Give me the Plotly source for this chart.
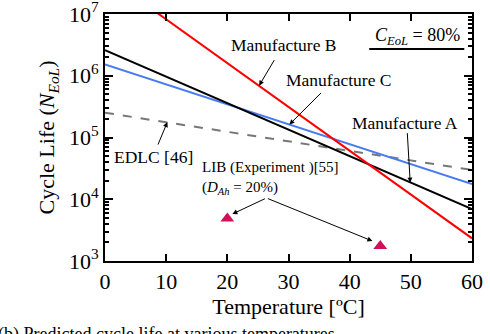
import plotly.graph_objects as go

# ---- data ----
temps_line = [0, 60]
manuf_a = [2.6e6, 6.9e3]
manuf_b = [4.2e7, 2.33e3]
manuf_c = [1.53e6, 1.77e4]
edlc = [2.52e5, 2.98e4]
lib_temp = [20, 45]
lib_life = [4.9e3, 1.75e3]
x_ticks = [0, 10, 20, 30, 40, 50, 60]
y_ticks = [1e3, 1e4, 1e5, 1e6, 1e7]
y_ticktext = ["10<sup>3</sup>", "10<sup>4</sup>", "10<sup>5</sup>", "10<sup>6</sup>", "10<sup>7</sup>"]

FONT = "Liberation Serif, Times New Roman, serif"

fig = go.Figure()
fig.add_trace(go.Scatter(x=temps_line, y=edlc, mode="lines",
                         line=dict(color="#777777", width=2, dash="dash")))
fig.add_trace(go.Scatter(x=temps_line, y=manuf_c, mode="lines",
                         line=dict(color="#4A7CF0", width=2)))
fig.add_trace(go.Scatter(x=temps_line, y=manuf_a, mode="lines",
                         line=dict(color="black", width=2)))
fig.add_trace(go.Scatter(x=temps_line, y=manuf_b, mode="lines",
                         line=dict(color="#FF0000", width=2)))
fig.add_trace(go.Scatter(x=lib_temp, y=lib_life, mode="markers",
                         marker=dict(symbol="triangle-up", size=12, color="#D0105A")))

arrow = dict(showarrow=True, arrowhead=2, arrowsize=1, arrowwidth=1,
             arrowcolor="black", xref="x", yref="y", axref="pixel", ayref="pixel")
labels = [
    ("Manufacture B", 29.2, 6.50, 25.2, 5.84, 16, -27),
    ("Manufacture C", 38.2, 5.93, 30.15, 5.21, 33, -33),
    ("Manufacture A", 49.1, 5.235, 49.9, 4.27, -3, -51),
    ("EDLC [46]", 7.9, 4.684, 10.2, 5.25, -10, 24),
]
annotations = []
for txt, tx, ty, hx, hy, ax, ay in labels:
    annotations.append(dict(text=txt, x=tx, y=ty, xref="x", yref="y", showarrow=False,
                            font=dict(family=FONT, size=17.5, color="black")))
    annotations.append(dict(text="", x=hx, y=hy, ax=ax, ay=ay, **arrow))

annotations.append(dict(text="LIB (Experiment )[55]<br>(<i>D<sub>Ah</sub></i> = 20%)",
                        x=15.6, y=4.352, xref="x", yref="y", xanchor="left", align="left",
                        showarrow=False, font=dict(family=FONT, size=15, color="black")))
annotations.append(dict(text="", x=20.83, y=3.761, ax=34, ay=-16, **arrow))
annotations.append(dict(text="", x=43.71, y=3.324, ax=-106, ay=-43, **arrow))

annotations.append(dict(text="<i>C<sub>EoL</sub></i> = 80%", x=0.731, y=0.962,
                        xref="paper", yref="paper", xanchor="left", showarrow=False,
                        font=dict(family=FONT, size=18, color="black")))
annotations.append(dict(text="(b) Predicted cycle life at various temperatures",
                        x=-0.298, y=-0.35, xref="paper", yref="paper", xanchor="left",
                        showarrow=False, font=dict(family=FONT, size=18, color="black")))

fig.update_layout(
    width=490, height=334,
    margin=dict(l=105, r=18, t=14, b=73),
    paper_bgcolor="white", plot_bgcolor="white",
    showlegend=False,
    font=dict(family=FONT, size=22, color="black"),
    annotations=annotations,
    shapes=[dict(type="line", xref="paper", yref="paper", x0=0.72, x1=0.979,
                 y0=0.858, y1=0.858, line=dict(color="black", width=2))],
    xaxis=dict(range=[0, 60], tickvals=x_ticks, ticks="inside", ticklen=7,
               tickwidth=1.5, tickcolor="black", showline=True, linecolor="black",
               linewidth=2, mirror="ticks", showgrid=False, zeroline=False,
               automargin=False, ticklabeloverflow="allow",
               title=dict(text="Temperature [ºC]", font=dict(family=FONT, size=22), standoff=0),
               tickfont=dict(family=FONT, size=22)),
    yaxis=dict(type="log", range=[3, 7], tickvals=y_ticks, ticktext=y_ticktext,
               ticks="inside", ticklen=8, tickwidth=1.5, tickcolor="black",
               showline=True, linecolor="black", linewidth=2, mirror="ticks",
               showgrid=False, zeroline=False, automargin=False,
               ticklabeloverflow="allow",
               minor=dict(dtick="D1", ticks="inside", ticklen=4, tickcolor="black",
                          showgrid=False),
               title=dict(text="Cycle Life (<i>N<sub>EoL</sub></i>)",
                          font=dict(family=FONT, size=22), standoff=8),
               tickfont=dict(family=FONT, size=22)),
)

fig.write_html("out.html", config={"displayModeBar": False},
               post_script="document.body.style.margin='0';")
